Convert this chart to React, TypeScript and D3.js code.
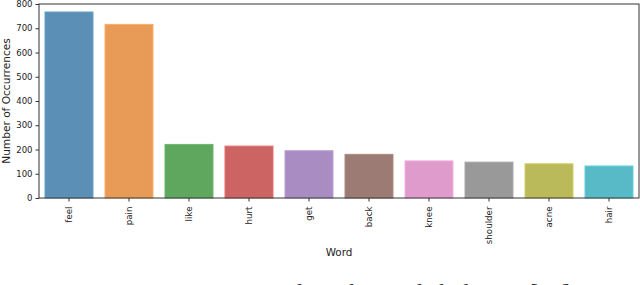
import React, { useEffect, useRef } from 'react';
import * as d3 from 'd3';

// word counts
const words = ['feel', 'pain', 'like', 'hurt', 'get', 'back', 'knee', 'shoulder', 'acne', 'hair'];
const counts = [767, 716, 221, 214, 195, 180, 153, 148, 141, 132];
const barColors = ['#5b8fb5', '#e89b56', '#5fa75f', '#cd6464', '#a98dc2', '#9c7b74', '#de9bcb', '#999999', '#bbba5a', '#58bac6'];
const yTicks = [0, 100, 200, 300, 400, 500, 600, 700, 800];

const App = () => {
  const ref = useRef<SVGSVGElement>(null);

  useEffect(() => {
    const svg = d3.select(ref.current);
    svg.selectAll('*').remove();

    const left = 39, right = 639, top = 4, bottom = 198;
    const font = 'DejaVu Sans, sans-serif';

    const x = d3.scaleBand().domain(words).range([left, right]).paddingInner(0.2).paddingOuter(0.1);
    const y = d3.scaleLinear().domain([0, 800]).range([bottom, top]);

    svg.append('g')
      .selectAll('rect')
      .data(words)
      .enter()
      .append('rect')
      .attr('x', d => x(d)!)
      .attr('width', x.bandwidth())
      .attr('y', (d, i) => y(counts[i]))
      .attr('height', (d, i) => bottom - y(counts[i]))
      .attr('fill', (d, i) => barColors[i])
      .attr('stroke', (d, i) => d3.color(barColors[i])!.brighter(0.3).toString())
      .attr('stroke-width', 1);

    // frame
    svg.append('rect')
      .attr('x', left).attr('y', top)
      .attr('width', right - left).attr('height', bottom - top)
      .attr('fill', 'none').attr('stroke', '#333').attr('stroke-width', 1);

    const yAxis = svg.append('g')
      .attr('transform', `translate(${left},0)`)
      .call(d3.axisLeft(y).tickValues(yTicks).tickSize(3.5).tickPadding(3));
    yAxis.select('.domain').remove();
    yAxis.selectAll('text').attr('font-family', font).attr('font-size', 8.5).attr('fill', '#222');
    yAxis.selectAll('line').attr('stroke', '#333');

    const xAxis = svg.append('g')
      .attr('transform', `translate(0,${bottom})`)
      .call(d3.axisBottom(x).tickSize(3.5).tickPadding(3));
    xAxis.select('.domain').remove();
    xAxis.selectAll('line').attr('stroke', '#333');
    xAxis.selectAll('text')
      .attr('font-family', font).attr('font-size', 8.7).attr('fill', '#222')
      .attr('transform', 'rotate(-90)')
      .attr('x', -8.5).attr('y', 0).attr('dy', '0.35em')
      .attr('text-anchor', 'end');

    svg.append('text')
      .attr('transform', `translate(10,${(top + bottom) / 2}) rotate(-90)`)
      .attr('text-anchor', 'middle')
      .attr('font-family', font).attr('font-size', 10.6).attr('fill', '#222')
      .text('Number of Occurrences');

    svg.append('text')
      .attr('x', (left + right) / 2).attr('y', 256)
      .attr('text-anchor', 'middle')
      .attr('font-family', font).attr('font-size', 10.4).attr('fill', '#222')
      .text('Word');

    // caption of the page, only its top edge shows at the bottom
    const cap = svg.append('text')
      .attr('y', 299.5)
      .attr('font-family', 'Liberation Serif, serif').attr('font-size', 24).attr('fill', '#333');
    cap.append('tspan').attr('x', 61).text('Figure 3:');
    cap.append('tspan').attr('x', 162).text('Frequent words in the English dataset [12]');
  }, []);

  return (
    <div style={{ position: 'absolute', left: 0, top: 0 }}>
      <svg ref={ref} width={640} height={285} style={{ display: 'block', background: '#fff' }} />
    </div>
  );
};

export default App;
